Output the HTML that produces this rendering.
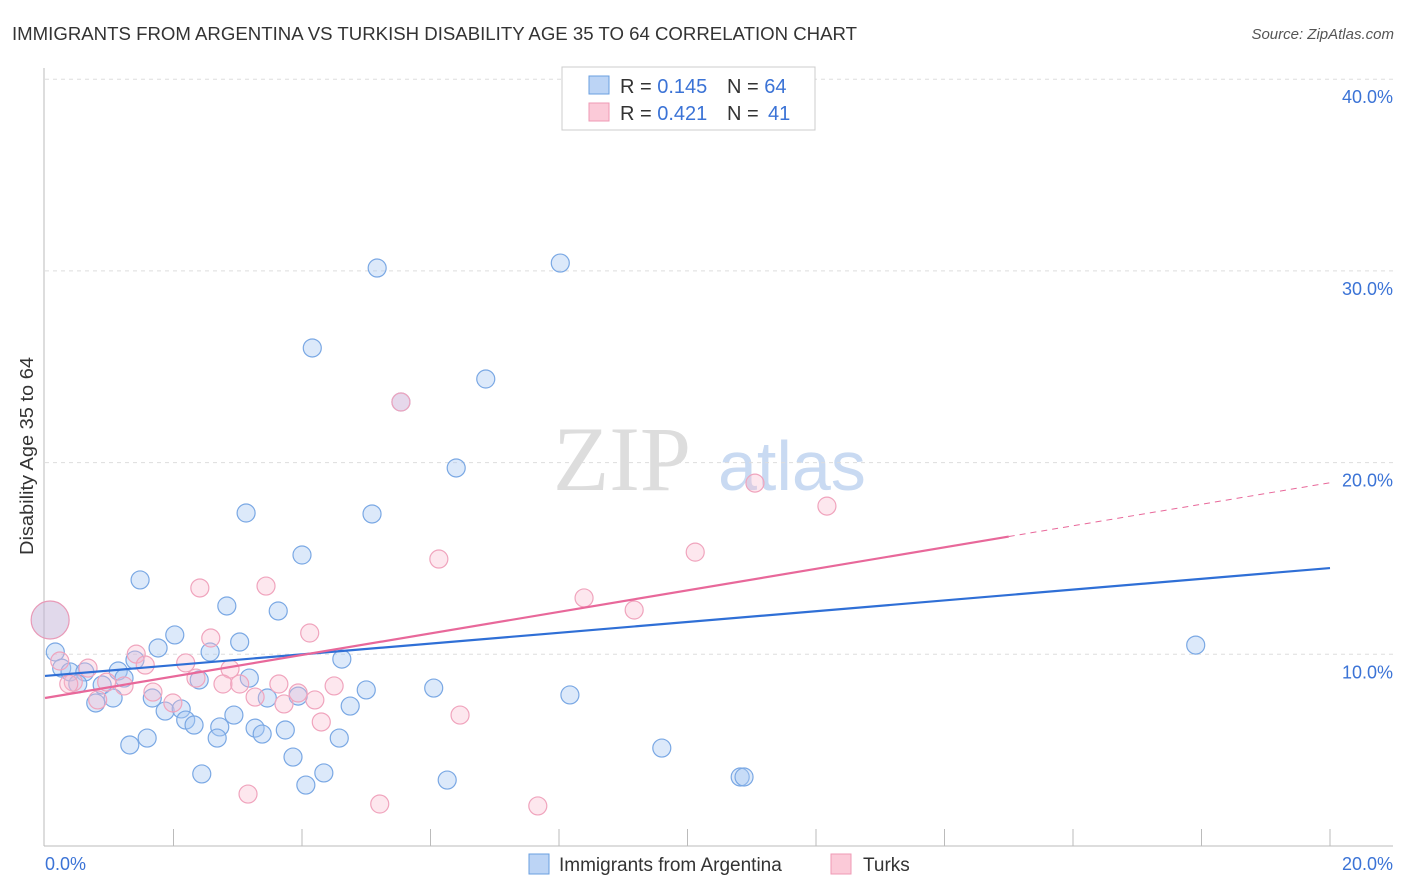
<!DOCTYPE html>
<html><head><meta charset="utf-8"><style>
body{margin:0;background:#fff;font-family:"Liberation Sans",sans-serif;}
svg{display:block}
</style></head><body>
<svg id="chart" width="1406" height="892">
<text x="12" y="40" font-size="18" fill="#333" textLength="845" lengthAdjust="spacingAndGlyphs">IMMIGRANTS FROM ARGENTINA VS TURKISH DISABILITY AGE 35 TO 64 CORRELATION CHART</text>
<text x="1394" y="39" font-size="15" fill="#555" font-style="italic" text-anchor="end">Source: ZipAtlas.com</text>
<g>
<text x="553" y="490" font-size="92" fill="#ddd" font-family="Liberation Serif,serif">ZIP</text>
<text x="718" y="490" font-size="70" fill="#c9daf2">atlas</text>
</g>
<g id="grid"></g>
<line x1="44" y1="68" x2="44" y2="846" stroke="#bbb"/>
<line x1="44" y1="846" x2="1393" y2="846" stroke="#bbb"/>
<g id="xticks"></g>
<text x="33" y="456" font-size="18" fill="#333" text-anchor="middle" textLength="198" lengthAdjust="spacingAndGlyphs" transform="rotate(-90 33 456)">Disability Age 35 to 64</text>
<text x="45" y="870" font-size="18" fill="#3b73d6">0.0%</text>
<text x="1393" y="870" font-size="18" fill="#3b73d6" text-anchor="end">20.0%</text>
<g id="points"></g>
<g id="lines"></g>
<g>
<rect x="562" y="67" width="253" height="63" fill="#fff" stroke="#ccc"/>
<rect x="589" y="76" width="20" height="18" fill="#bcd4f5" stroke="#6a9fe0"/>
<rect x="589" y="103" width="20" height="18" fill="#fbcad8" stroke="#ef9ab5"/>
<text x="620" y="93" font-size="20" fill="#333">R = <tspan fill="#3b73d6">0.145</tspan></text>
<text x="727" y="93" font-size="20" fill="#333">N = <tspan fill="#3b73d6">64</tspan></text>
<text x="620" y="120" font-size="20" fill="#333">R = <tspan fill="#3b73d6">0.421</tspan></text>
<text x="727" y="120" font-size="20" fill="#333">N = <tspan x="768" fill="#3b73d6">41</tspan></text>
</g>
<g>
<rect x="529" y="854" width="20" height="20" fill="#bcd4f5" stroke="#6a9fe0"/>
<text x="559" y="871" font-size="19" fill="#333">Immigrants from Argentina</text>
<rect x="831" y="854" width="20" height="20" fill="#fbcad8" stroke="#ef9ab5"/>
<text x="863" y="871" font-size="19" fill="#333">Turks</text>
</g>
</svg>
<script>
const yTicks=[10,20,30,40];
const yTickLabels=["10.0%","20.0%","30.0%","40.0%"];
const xTickCount=10;
const blueX=[5.17,8.02,4.16,6.86,5.54,6.40,3.13,5.09,4.00,1.48,2.83,3.63,2.02,3.03,1.76,2.57,1.40,4.62,0.16,0.26,0.39,0.62,1.14,1.23,0.51,0.89,2.40,3.18,5.00,6.05,8.17,17.91,0.79,1.06,1.67,1.87,2.12,2.19,2.32,2.94,2.72,3.46,3.94,4.75,3.27,3.38,3.74,2.68,1.59,1.32,4.58,9.60,3.86,2.44,4.34,4.06,6.26,10.82,10.88];
const blueY=[30.15,30.41,25.98,24.36,23.16,19.72,17.37,17.32,15.18,13.88,12.52,12.26,11.01,10.64,10.33,10.12,9.70,9.75,10.12,9.28,9.08,9.08,9.13,8.76,8.45,8.40,8.66,8.76,8.14,8.24,7.88,10.48,7.46,7.72,7.72,7.04,7.15,6.57,6.31,6.83,6.21,7.72,7.82,7.30,6.15,5.84,6.05,5.63,5.63,5.27,5.63,5.11,4.64,3.76,3.81,3.18,3.44,3.60,3.60];
const pinkX=[5.54,11.05,12.17,10.12,6.13,3.44,2.41,8.39,9.17,4.12,2.58,1.42,0.23,0.67,1.56,2.19,2.88,0.44,0.37,1.23,2.35,2.77,3.03,1.68,0.96,1.99,3.27,3.64,3.94,4.20,4.50,3.72,0.82,4.30,6.46,3.16,5.21,7.67];
const pinkY=[23.16,18.93,17.73,15.33,14.97,13.56,13.46,12.94,12.31,11.11,10.85,10.01,9.65,9.28,9.44,9.55,9.23,8.55,8.45,8.35,8.76,8.45,8.45,8.03,8.55,7.46,7.77,8.45,7.98,7.62,8.35,7.41,7.62,6.47,6.83,2.71,2.19,2.09];
const bigPoint=[0.08,11.79];
const blueTrend=[8.87,14.5];
const pinkTrend=[7.72,18.95];
const pinkSolidEnd=15.0;
const NS="http://www.w3.org/2000/svg";
const sx=v=>45+v/20*1285;
const sy=v=>846-v*19.17;
function mk(tag,attrs,parent){const e=document.createElementNS(NS,tag);for(const k in attrs)e.setAttribute(k,attrs[k]);document.getElementById(parent).appendChild(e);return e;}
yTicks.forEach((t,i)=>{
 const l=mk('line',{x1:45,x2:1393,y1:sy(t),y2:sy(t),stroke:'#ddd','stroke-dasharray':'4,4'},'grid');
 
 
 const tx=mk('text',{x:1393,y:sy(t)+24,'font-size':18,fill:'#3b73d6','text-anchor':'end'},'grid');
 tx.textContent=yTickLabels[i];
 
 
});
for(let i=1;i<=xTickCount;i++){
 const x=sx(i*2);
 const l=mk('line',{x1:x,x2:x,y1:829,y2:846,stroke:'#bbb'},'xticks');
 
 
}
function dot(x,y,r,fill,stroke,name){
 const c=mk('circle',{cx:sx(x),cy:sy(y),r:r,fill:fill,stroke:stroke,'stroke-width':1.2},'points');
 
 
}
dot(bigPoint[0],bigPoint[1],19,'rgba(195,180,215,0.5)','#e89ab8','point-large');
blueX.forEach((x,i)=>dot(x,blueY[i],9,'rgba(168,200,242,0.4)','#7aa8e4','point-argentina'));
pinkX.forEach((x,i)=>dot(x,pinkY[i],9,'rgba(248,185,205,0.35)','#f0a4bd','point-turks'));
const bl=mk('line',{x1:sx(0),y1:sy(blueTrend[0]),x2:sx(20),y2:sy(blueTrend[1]),stroke:'#2f6fd6','stroke-width':2.2},'lines');


const pm=pinkTrend[0]+(pinkTrend[1]-pinkTrend[0])*pinkSolidEnd/20;
const pl=mk('line',{x1:sx(0),y1:sy(pinkTrend[0]),x2:sx(pinkSolidEnd),y2:sy(pm),stroke:'#e8689a','stroke-width':2.2},'lines');


const pd=mk('line',{x1:sx(pinkSolidEnd),y1:sy(pm),x2:sx(20),y2:sy(pinkTrend[1]),stroke:'#e8689a','stroke-width':1,'stroke-dasharray':'6,5'},'lines');


</script>
</body></html>
